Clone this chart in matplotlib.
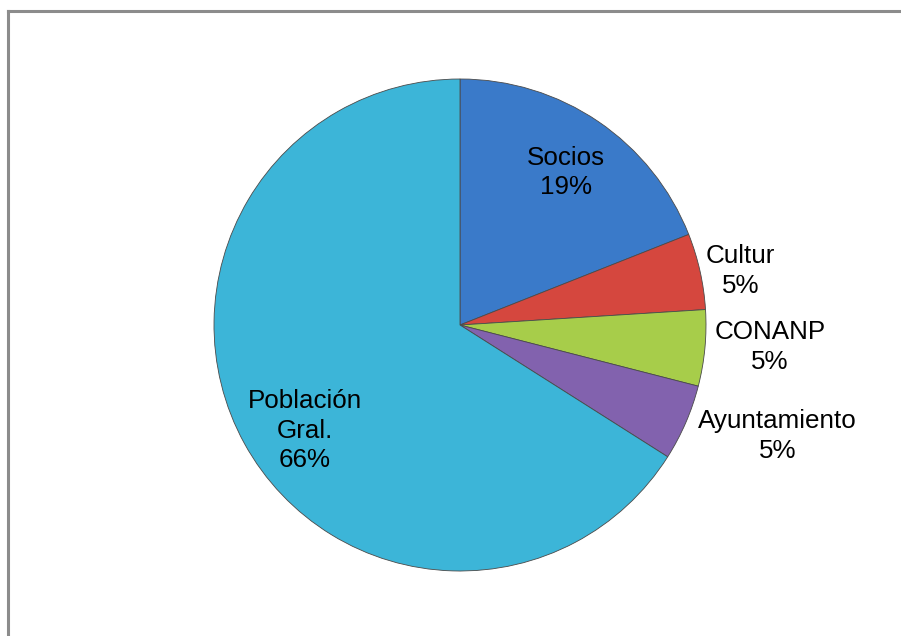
import matplotlib
matplotlib.use("Agg")
import matplotlib.pyplot as plt
from matplotlib.lines import Line2D
import numpy as np

# data
categories = ["Socios", "Cultur", "CONANP", "Ayuntamiento", "Población\nGral."]
shares = [19, 5, 5, 5, 66]
colors = ["#3A7AC9", "#D5473E", "#A7CD4A", "#8262AE", "#3CB5D8"]

# label placement (pie data units, radius = 1)
label_pos = [(0.43, 0.62), (1.14, 0.22), (1.26, -0.09), (1.29, -0.45), (-0.63, -0.43)]

plt.rcParams["font.family"] = ["Liberation Sans", "DejaVu Sans"]

W, H = 901, 636
fig = plt.figure(figsize=(W / 100, H / 100), dpi=100)

# grey frame of the chart area (runs off the right and bottom edges)
fig.add_artist(Line2D([7.5 / W, 1.0], [1 - 10.5 / H, 1 - 10.5 / H],
                      color="#8c8c8c", lw=2.2, transform=fig.transFigure))
fig.add_artist(Line2D([7.5 / W, 7.5 / W], [0.0, 1 - 10.5 / H],
                      color="#8c8c8c", lw=2.2, transform=fig.transFigure))

cx, cy, r = 460, 325, 246
ax = fig.add_axes([(cx - r) / W, (H - cy - r) / H, 2 * r / W, 2 * r / H])

wedges, _ = ax.pie(shares, colors=colors, startangle=90, counterclock=False,
                   radius=1.0,
                   wedgeprops=dict(edgecolor="#4a4a4a", linewidth=0.6))

total = sum(shares)
for name, val, (x, y) in zip(categories, shares, label_pos):
    ax.text(x, y, f"{name}\n{round(100 * val / total)}%", ha="center", va="center",
            fontsize=18.7, color="black", linespacing=1.3)

ax.set_xlim(-1, 1)
ax.set_ylim(-1, 1)
ax.set_aspect("equal")
ax.axis("off")

fig.savefig("out.png", dpi=100)
